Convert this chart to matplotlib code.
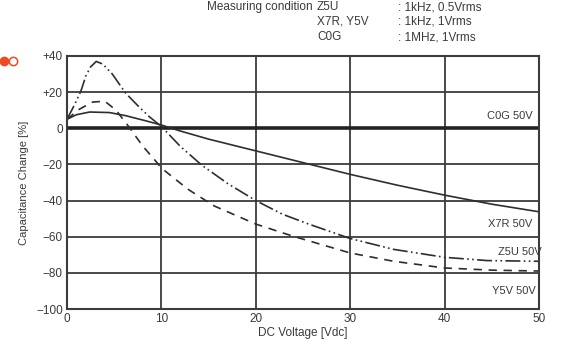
import matplotlib
matplotlib.use("Agg")
import matplotlib.pyplot as plt
from matplotlib.lines import Line2D

plt.rcParams["font.family"] = ["Liberation Sans", "DejaVu Sans"]

# valores
v_z5u = [0, 0.8, 1.5, 2.0, 2.5, 3.1, 3.8, 4.8, 6.2, 7.6, 8.7, 10, 12, 14.3, 17, 20,
         22.8, 25.6, 30, 34.6, 40, 44.5, 50]
c_z5u = [5, 13, 21, 29, 34, 37, 35.5, 30, 19.5, 12, 6.5, 1, -10, -20.5, -30.5, -40,
         -47.5, -53, -61, -67, -71.4, -73.2, -73.6]

v_y5v = [0, 1.3, 2.7, 4, 5.2, 6.6, 8, 9.5, 10, 12.8, 15.6, 20, 23.8, 30, 34.6, 40, 45, 50]
c_y5v = [5, 10.5, 14.5, 15, 10, 0.5, -9.7, -18.8, -22, -33.7, -43, -53, -59.5, -69,
         -73.6, -77.3, -78.5, -79]

v_x7r = [0, 1, 2.4, 4.5, 6.2, 8.3, 10, 12, 15, 20, 25, 30, 35, 40, 45, 50]
c_x7r = [5, 7.5, 9, 8.7, 7, 4.2, 1.8, -1.5, -6, -12.5, -19, -25.5, -31.5, -37, -42, -46.2]

v_c0g = [0, 50]
c_c0g = [0, 0]

yticks = [40, 20, 0, -20, -40, -60, -80, -100]
ylabels = ["+40", "+20", "0", "\u221220", "\u221240", "\u221260", "\u221280", "\u2212100"]
xticks = [0, 10, 20, 30, 40, 50]

W, H = 561, 346
fig = plt.figure(figsize=(W / 100, H / 100), dpi=100)
ax = fig.add_axes([67 / W, 1 - 309 / H, (539 - 67) / W, (309 - 56) / H])

txt = "#3a3a3a"
grid = "#3c3c3c"
curve = "#2e2e2e"

ax.set_xlim(0, 50)
ax.set_ylim(-100, 40)
ax.set_xticks(xticks)
ax.set_xticklabels([str(x) for x in xticks])
ax.set_yticks(yticks)
ax.set_yticklabels(ylabels)
ax.tick_params(length=0, labelsize=8.5, colors=txt, pad=3)
ax.grid(True, color=grid, lw=1.3)
for s in ax.spines.values():
    s.set_color(grid)
    s.set_linewidth(1.5)

ax.plot(v_c0g, c_c0g, color="#222222", lw=2.6)
ax.plot(v_x7r, c_x7r, color=curve, lw=1.2)
ax.plot(v_z5u, c_z5u, color=curve, lw=1.2, dashes=(9, 2, 1, 2, 1, 2))
ax.plot(v_y5v, c_y5v, color=curve, lw=1.2, dashes=(5, 4))

ax.text(46.9, 7, "C0G 50V", ha="center", va="center", fontsize=8, color=txt)
ax.text(46.9, -53, "X7R 50V", ha="center", va="center", fontsize=8, color=txt)
ax.text(48.0, -68.5, "Z5U 50V", ha="center", va="center", fontsize=8, color=txt)
ax.text(47.3, -90, "Y5V 50V", ha="center", va="center", fontsize=8, color=txt)

ax.set_xlabel("DC Voltage [Vdc]", fontsize=8.5, color=txt, labelpad=1)
ax.set_ylabel("Capacitance Change [%]", fontsize=8, color=txt, labelpad=5)

# cabecalho
fig.text(313 / W, 1 - 7 / H, "Measuring condition", ha="right", va="center", fontsize=8.5, color=txt)
for y, a, b in [(7, "Z5U", ": 1kHz, 0.5Vrms"), (22, "X7R, Y5V", ": 1kHz, 1Vrms"),
                (37, "C0G", ": 1MHz, 1Vrms")]:
    fig.text(317 / W, 1 - y / H, a, ha="left", va="center", fontsize=8.5, color=txt)
    fig.text(398 / W, 1 - y / H, b, ha="left", va="center", fontsize=8.5, color=txt)

# pontinhos vermelhos no canto
fig.add_artist(Line2D([4 / W], [1 - 61 / H], marker="o", ms=6, color="#f04a23",
                      transform=fig.transFigure))
fig.add_artist(Line2D([13 / W], [1 - 61 / H], marker="o", ms=6, mfc="white",
                      mec="#f04a23", mew=1.1, transform=fig.transFigure))

fig.savefig("out.png", dpi=100)
